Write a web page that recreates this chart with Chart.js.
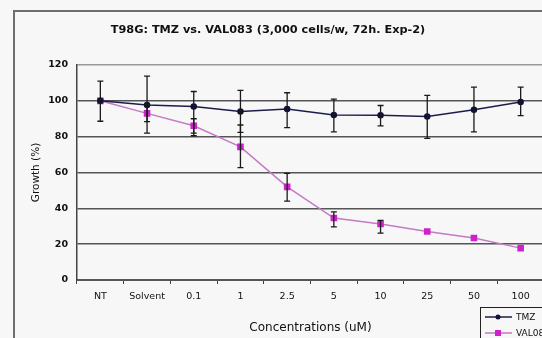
<!DOCTYPE html>
<html>
<head>
<meta charset="utf-8">
<script src="https://cdn.jsdelivr.net/npm/chart.js@4.4.1/dist/chart.umd.min.js"></script>
<style>
html, body { margin: 0; padding: 0; background: #f7f7f7; overflow: hidden; width: 542px; height: 338px; }
#frame { position: absolute; left: 13px; top: 10px; width: 560px; height: 360px; border: 2px solid #6e6e6e; }
#wrap { position: absolute; left: 0; top: 0; }
</style>
</head>
<body>
<div id="frame"></div>
<div id="wrap"><canvas id="chart" width="560" height="360"></canvas></div>
<script>
// data
var concentrations = ["NT", "Solvent", "0.1", "1", "2.5", "5", "10", "25", "50", "100"];
var tmzGrowth = [100, 97.7, 96.8, 94, 95.5, 92.1, 92, 91.2, 95, 99.3];
var tmzLow    = [88.6, 82, 80.5, 82.4, 85, 82.7, 86, 79, 82.7, 91.7];
var tmzHigh   = [111, 113.8, 105.2, 105.8, 104.5, 101, 97.4, 103, 107.7, 107.7];
var valGrowth = [100, 93, 86.1, 74.3, 52, 34.6, 31.3, 27.1, 23.4, 17.8];
var valLow    = [100, 88.4, 82, 62.7, 44, 29.7, 26.2, 27.1, 23.4, 17.8];
var valHigh   = [100, 98, 90, 86.5, 59.5, 38, 33.3, 27.1, 23.4, 17.8];
var yTicks = [0, 20, 40, 60, 80, 100, 120];

var fontFam = "'DejaVu Sans', sans-serif";

// error bars, drawn through the scales
var errorBars = {
	id: "errorBars",
	afterDatasetsDraw: function(chart) {
		var ctx = chart.ctx;
		var xs = chart.scales.x, ys = chart.scales.y;
		var sets = [[tmzLow, tmzHigh], [valLow, valHigh]];
		ctx.save();
		ctx.strokeStyle = "#1a1a1a";
		ctx.lineWidth = 1.3;
		for (var s = 0; s < sets.length; s++) {
			for (var i = 0; i < concentrations.length; i++) {
				var lo = sets[s][0][i], hi = sets[s][1][i];
				if (hi - lo < 0.5) continue;
				var x = xs.getPixelForValue(i);
				var y1 = ys.getPixelForValue(lo), y2 = ys.getPixelForValue(hi);
				ctx.beginPath();
				ctx.moveTo(x, y1); ctx.lineTo(x, y2);
				ctx.moveTo(x - 3, y1); ctx.lineTo(x + 3, y1);
				ctx.moveTo(x - 3, y2); ctx.lineTo(x + 3, y2);
				ctx.stroke();
			}
		}
		ctx.restore();
	}
};

// title and the little legend box in the bottom right corner
var extras = {
	id: "extras",
	afterDraw: function(chart) {
		var ctx = chart.ctx;
		ctx.save();
		ctx.fillStyle = "#111";
		ctx.font = "bold 11.3px " + fontFam;
		ctx.textAlign = "center";
		ctx.textBaseline = "middle";
		ctx.fillText("T98G: TMZ vs. VAL083 (3,000 cells/w, 72h. Exp-2)", 268, 30);

		ctx.fillStyle = "#f7f7f7";
		ctx.strokeStyle = "#222";
		ctx.lineWidth = 1;
		ctx.fillRect(480.5, 307.5, 80, 40);
		ctx.strokeRect(480.5, 307.5, 80, 40);
		var ds = chart.data.datasets;
		for (var k = 0; k < ds.length; k++) {
			var y = 317 + k * 16;
			ctx.strokeStyle = ds[k].borderColor;
			ctx.lineWidth = 1.5;
			ctx.beginPath(); ctx.moveTo(485, y); ctx.lineTo(512, y); ctx.stroke();
			ctx.fillStyle = ds[k].pointBackgroundColor;
			if (k == 0) {
				ctx.beginPath(); ctx.arc(498, y, 2.5, 0, Math.PI * 2); ctx.fill();
			} else {
				ctx.fillRect(495, y - 3, 6, 6);
			}
			ctx.fillStyle = "#111";
			ctx.font = "9px " + fontFam;
			ctx.textAlign = "left";
			ctx.fillText(ds[k].label, 516, y + 1);
		}
		ctx.restore();
	}
};

var ctx = document.getElementById("chart").getContext("2d");
var chart = new Chart(ctx, {
	type: "line",
	data: {
		labels: concentrations,
		datasets: [
			{
				label: "TMZ",
				data: tmzGrowth,
				borderColor: "#1c1c4c",
				backgroundColor: "#1c1c4c",
				pointBackgroundColor: "#10103a",
				pointBorderColor: "#10103a",
				pointStyle: "circle",
				pointRadius: 2.5,
				borderWidth: 1.5,
				tension: 0
			},
			{
				label: "VAL083",
				data: valGrowth,
				borderColor: "#c47ac4",
				backgroundColor: "#cc22cc",
				pointBackgroundColor: "#cc22cc",
				pointBorderColor: "#cc22cc",
				pointStyle: "rect",
				pointRadius: 3.6,
				borderWidth: 1.5,
				tension: 0
			}
		]
	},
	options: {
		responsive: false,
		animation: false,
		layout: { padding: { left: 14, right: 16, top: 65, bottom: 20 } },
		plugins: {
			legend: { display: false },
			tooltip: { enabled: false },
			title: { display: false }
		},
		scales: {
			x: {
				offset: true,
				grid: { offset: true, drawOnChartArea: false, drawTicks: true, tickLength: 4, color: "#444", lineWidth: 1 },
				border: { display: true, color: "#555", width: 2 },
				ticks: { color: "#111", font: { family: fontFam, size: 9.5 }, padding: 7, maxRotation: 0, autoSkip: false },
				title: { display: true, text: "Concentrations (uM)", color: "#111", font: { family: fontFam, size: 12 }, padding: { top: 0, bottom: 5 } },
				afterFit: function(scale) { scale.height = 60; }
			},
			y: {
				min: 0,
				max: 120,
				afterBuildTicks: function(scale) { scale.ticks = yTicks.map(function(v) { return { value: v }; }); },
				grid: { color: function(c) { return c.tick && c.tick.value == 120 ? "#999" : "#555"; }, lineWidth: 1.5, drawTicks: false },
				border: { display: true, color: "#444", width: 1.5 },
				ticks: { color: "#111", font: { family: fontFam, size: 9.5, weight: "bold" }, padding: 9 },
				title: { display: true, text: "Growth (%)", color: "#111", font: { family: fontFam, size: 10.5 }, padding: { top: 16, bottom: 0 } },
				afterFit: function(scale) { scale.width = 63; }
			}
		}
	},
	plugins: [errorBars, extras]
});
</script>
</body>
</html>
